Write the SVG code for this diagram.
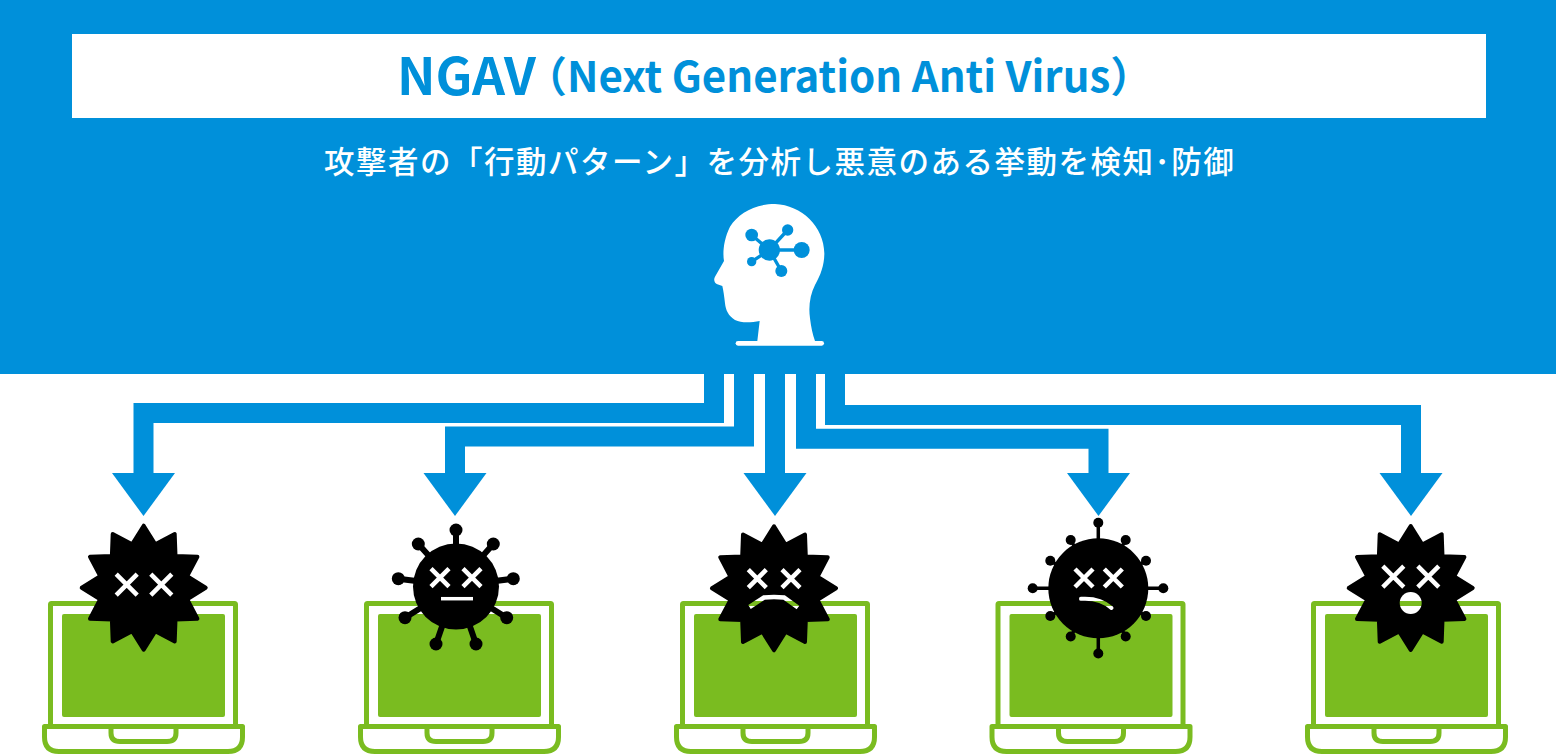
<svg xmlns="http://www.w3.org/2000/svg" width="1556" height="755" viewBox="0 0 1556 755">
<style>
.jp{font-family:"Noto Sans CJK JP","Noto Sans",sans-serif}
.title{fill:#0090da;font-weight:700}
.sub{fill:#fff;font-weight:500;font-size:30.500px;letter-spacing:1.500px}
.conn{fill:none;stroke:#0090da;stroke-width:20;marker-end:url(#head)}
.lap{fill:none;stroke:#7abc20;stroke-width:5;stroke-linejoin:round}
.scr{fill:#7abc20}
.cut{fill:none;stroke:#000;stroke-width:4.5}
.star{fill:#000;stroke:#000;stroke-width:4;stroke-linejoin:round}
.sp2{stroke:#000;stroke-width:6}
.sp4{stroke:#000;stroke-width:3.5}
.bl{fill:#0090da}
</style>
<defs>
<marker id="head" markerUnits="userSpaceOnUse" markerWidth="44" markerHeight="64" refX="0" refY="32" orient="auto" viewBox="0 0 44 64"><path d="M0 .5L43 32L0 63.500Z" fill="#0090da"/></marker>
<g id="laptop">
<rect class="lap" x="50.500" y="603.500" width="185" height="123" rx="1"/>
<rect class="scr" x="62" y="614" width="163" height="103" rx="2"/>
<path class="lap" d="M44.500 726.500H242.500V737Q242.500 751.500 228 751.500H59Q44.500 751.500 44.500 737Z"/>
<path class="lap" d="M111 726.500V733Q111 741.500 120 741.500H167Q176 741.500 176 733V726.500"/>
</g>
<polygon id="star" class="star" points="0,-62 11.600,-43.500 31,-53.700 31.800,-31.800 53.700,-31 43.500,-11.600 62,0 43.500,11.600 53.700,31 31.800,31.800 31,53.700 11.600,43.500 0,62 -11.600,43.500 -31,53.700 -31.800,31.800 -53.700,31 -43.500,11.600 -62,0 -43.500,-11.600 -53.700,-31 -31.800,-31.800 -31,-53.700 -11.600,-43.500"/>
<path id="x11" class="cut" d="M-10.500 -10.500L10.500 10.500M10.500 -10.500L-10.500 10.500"/>
<path id="x9" class="cut" d="M-9 -9L9 9M9 -9L-9 9"/>
<mask id="m1" maskUnits="userSpaceOnUse" x="0" y="500" width="1556" height="255"><rect y="500" width="1556" height="255" fill="#fff"/><use href="#x11" x="126.700" y="584.700"/><use href="#x11" x="161.300" y="584.700"/></mask>
<mask id="m2" maskUnits="userSpaceOnUse" x="0" y="500" width="1556" height="255"><rect y="500" width="1556" height="255" fill="#fff"/><use href="#x9" x="440" y="577.700"/><use href="#x9" x="472" y="577.700"/><path class="cut" style="stroke-width:3.500" d="M441 598.700H473"/></mask>
<mask id="m3" maskUnits="userSpaceOnUse" x="0" y="500" width="1556" height="255"><rect y="500" width="1556" height="255" fill="#fff"/><use href="#x9" x="757.300" y="578.700"/><use href="#x9" x="791" y="578.700"/><path class="cut" style="stroke-width:4.500" d="M749.500 607L764 597.500Q774 596.500 784 597.500L798 607.500"/></mask>
<mask id="m4" maskUnits="userSpaceOnUse" x="0" y="500" width="1556" height="255"><rect y="500" width="1556" height="255" fill="#fff"/><use href="#x9" x="1084" y="578"/><use href="#x9" x="1113.300" y="578"/><path class="cut" style="stroke-width:4;stroke-linecap:round" d="M1081 598.800Q1100 597.500 1111.500 608"/></mask>
<mask id="m5" maskUnits="userSpaceOnUse" x="0" y="500" width="1556" height="255"><rect y="500" width="1556" height="255" fill="#fff"/><use href="#x11" x="1393.300" y="576.700"/><use href="#x11" x="1428.300" y="576.700"/><circle cx="1410.700" cy="603" r="11"/></mask>
</defs>

<rect id="band" width="1556" height="374" fill="#0090da"/>

<g id="title">
<rect x="72" y="34" width="1414" height="84" fill="#fff"/>
<text class="jp title" x="397" y="95" font-size="51.500">NGAV</text>
<text class="jp title" x="525" y="92" font-size="42">（Next Generation Anti Virus）</text>
</g>
<text id="subtitle" class="jp sub" x="324" y="173">攻撃者の「行動パターン」を分析し悪意のある挙動を検知･防御</text>

<g id="head-icon">
<g transform="translate(680 190) scale(.33333)">
<path fill="#fff" d="M232 453L239 393C215 397 185 400 165 390C145 378 137 360 135 340C133 320 130 300 127 288L112 283C103 280 100 268 105 260L132 213C128 190 130 150 150 110C175 70 225 42 285 42C365 45 432 110 433 190C433 225 422 255 405 285C390 315 385 350 390 385C393 410 398 435 405 453Z"/>
<rect x="167" y="453" width="265" height="14" rx="7" fill="#fff"/>
<g fill="none" stroke="#0090da" stroke-width="10"><path d="M215 135L268 180L323 120M268 180H365M268 180L304 243M268 180L215 215"/></g>
<g class="bl"><circle cx="268" cy="180" r="32"/><circle cx="215" cy="135" r="19"/><circle cx="323" cy="120" r="17"/><circle cx="365" cy="180" r="24"/><circle cx="304" cy="243" r="18"/><circle cx="215" cy="215" r="14"/></g>
</g>
</g>

<g id="connectors">
<path class="conn" d="M714 374V413H143.500V473"/>
<path class="conn" d="M744 374V436.500H455V473"/>
<path class="conn" d="M775 374V473"/>
<path class="conn" d="M806 374V438.700H1098.500V473"/>
<path class="conn" d="M835 374V415H1411V473"/>
</g>

<g id="pc1"><use href="#laptop"/>
<g mask="url(#m1)"><use href="#star" x="143.700" y="587.700"/></g></g>

<g id="pc2"><use href="#laptop" x="316"/>
<g mask="url(#m2)">
<path class="sp2" d="M456 586L456 530M456 586L418.300 544M456 586L493.300 544M456 586L398.300 578.700M456 586L513.300 578.700M456 586L405 617.700M456 586L506.700 617.700M456 586L436 644M456 586L476 644"/>
<g><circle cx="456" cy="530" r="6.500"/><circle cx="418.300" cy="544" r="6.500"/><circle cx="493.300" cy="544" r="6.500"/><circle cx="398.300" cy="578.700" r="6.500"/><circle cx="513.300" cy="578.700" r="6.500"/><circle cx="405" cy="617.700" r="6.500"/><circle cx="506.700" cy="617.700" r="6.500"/><circle cx="436" cy="644" r="6.500"/><circle cx="476" cy="644" r="6.500"/></g>
<circle cx="456" cy="586.500" r="43"/>
</g></g>

<g id="pc3"><use href="#laptop" x="632"/>
<g mask="url(#m3)"><use href="#star" x="774" y="588.300"/></g></g>

<g id="pc4"><use href="#laptop" x="947.500"/>
<g mask="url(#m4)">
<path class="sp4" d="M1098.300 522.700V653.500M1032.700 588.300H1163.300M1070.700 540L1125.700 636.500M1125.700 540L1070.700 636.500M1050.300 560.700L1146 616M1146 560.700L1050.300 616"/>
<g><circle cx="1098.300" cy="522.700" r="5"/><circle cx="1098.300" cy="653.500" r="5"/><circle cx="1032.700" cy="588.300" r="5"/><circle cx="1163.300" cy="588.300" r="5"/><circle cx="1070.700" cy="540" r="5"/><circle cx="1125.700" cy="540" r="5"/><circle cx="1070.700" cy="636.500" r="5"/><circle cx="1125.700" cy="636.500" r="5"/><circle cx="1050.300" cy="560.700" r="5"/><circle cx="1146" cy="560.700" r="5"/><circle cx="1050.300" cy="616" r="5"/><circle cx="1146" cy="616" r="5"/></g>
<circle cx="1098.300" cy="588.300" r="50"/>
</g></g>

<g id="pc5"><use href="#laptop" x="1263"/>
<g mask="url(#m5)"><use href="#star" x="1410.700" y="588"/></g></g>
</svg>
